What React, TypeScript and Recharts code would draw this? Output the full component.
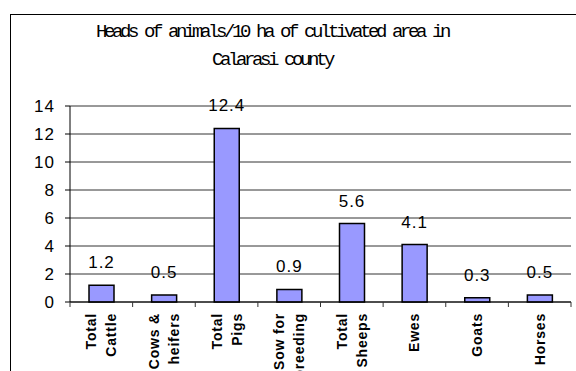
import { Bar, BarChart, CartesianGrid, LabelList, XAxis, YAxis } from 'recharts';

const categories = [
  'Total Cattle',
  'Cows & heifers',
  'Total Pigs',
  'Sow for breeding',
  'Total Sheeps',
  'Ewes',
  'Goats',
  'Horses',
];
const tickLines = [
  ['Total', 'Cattle'],
  ['Cows &', 'heifers'],
  ['Total', 'Pigs'],
  ['Sow for', 'breeding'],
  ['Total', 'Sheeps'],
  ['Ewes'],
  ['Goats'],
  ['Horses'],
];
const heads = [1.2, 0.5, 12.4, 0.9, 5.6, 4.1, 0.3, 0.5];
const yTicks = [0, 2, 4, 6, 8, 10, 12, 14];
const titleLines = ['Heads of animals/10 ha of cultivated area in', 'Calarasi county'];

const data = categories.map((name, i) => ({ name, value: heads[i] }));

const W = 576;
const H = 371;
const PLOT_LEFT = 70;
const PLOT_RIGHT = 5;
const BAND = (W - PLOT_LEFT - PLOT_RIGHT) / categories.length;
const SANS = "'Liberation Sans', Arial, sans-serif";

function CategoryTick(props: any) {
  const { x, y, index } = props;
  const lines = tickLines[index] || [];
  const half = BAND / 2;
  return (
    <g>
      <line x1={x - half} x2={x - half} y1={y} y2={y + 5} stroke="#333" />
      {index === categories.length - 1 && (
        <line x1={x + half} x2={x + half} y1={y} y2={y + 5} stroke="#333" />
      )}
      <g transform={`translate(${x},${y + 11}) rotate(-90)`}>
        <text
          textAnchor="end"
          fontFamily={SANS}
          fontWeight="bold"
          fontSize={14}
          letterSpacing={0.8}
          fill="#000"
        >
          {lines.map((l, i) => (
            <tspan key={i} x={0} y={lines.length === 1 ? 5 : -5 + i * 20}>
              {l}
            </tspan>
          ))}
        </text>
      </g>
    </g>
  );
}

export default function App() {
  return (
    <div
      style={{
        position: 'absolute',
        left: 0,
        top: 0,
        width: W,
        height: H,
        overflow: 'hidden',
        background: '#fff',
      }}
    >
      <div
        style={{
          position: 'absolute',
          left: 10,
          top: 14,
          width: 620,
          height: 420,
          border: '1px solid #000',
        }}
      />
      <div
        style={{
          position: 'absolute',
          left: 72,
          top: 18,
          width: 400,
          textAlign: 'center',
          fontFamily: "'Liberation Mono', monospace",
          fontSize: 19,
          letterSpacing: -3.4,
          lineHeight: '28px',
          color: '#000',
        }}
      >
        {titleLines.map((t) => (
          <div key={t}>{t}</div>
        ))}
      </div>
      <div style={{ position: 'absolute', left: 0, top: 0 }}>
        <BarChart
          width={W}
          height={H}
          data={data}
          margin={{ top: 106, right: PLOT_RIGHT, bottom: 0, left: 0 }}
          barSize={25}
        >
          <CartesianGrid vertical={false} stroke="#333" />
          <XAxis
            dataKey="name"
            height={69}
            interval={0}
            axisLine={{ stroke: '#000' }}
            tickLine={false}
            tickSize={0}
            tickMargin={0}
            tick={<CategoryTick />}
          />
          <YAxis
            width={PLOT_LEFT}
            domain={[0, 14]}
            ticks={yTicks}
            axisLine={{ stroke: '#000' }}
            tickLine={{ stroke: '#000' }}
            tickSize={5}
            tickMargin={10}
            tick={{ fill: '#000', fontSize: 17, fontFamily: SANS, letterSpacing: 1 }}
          />
          <Bar dataKey="value" fill="#9999FF" stroke="#000" strokeWidth={1.5} isAnimationActive={false}>
            <LabelList
              dataKey="value"
              position="top"
              offset={17}
              fill="#000"
              fontSize={17}
              letterSpacing={1}
              fontFamily={SANS}
            />
          </Bar>
        </BarChart>
      </div>
    </div>
  );
}
